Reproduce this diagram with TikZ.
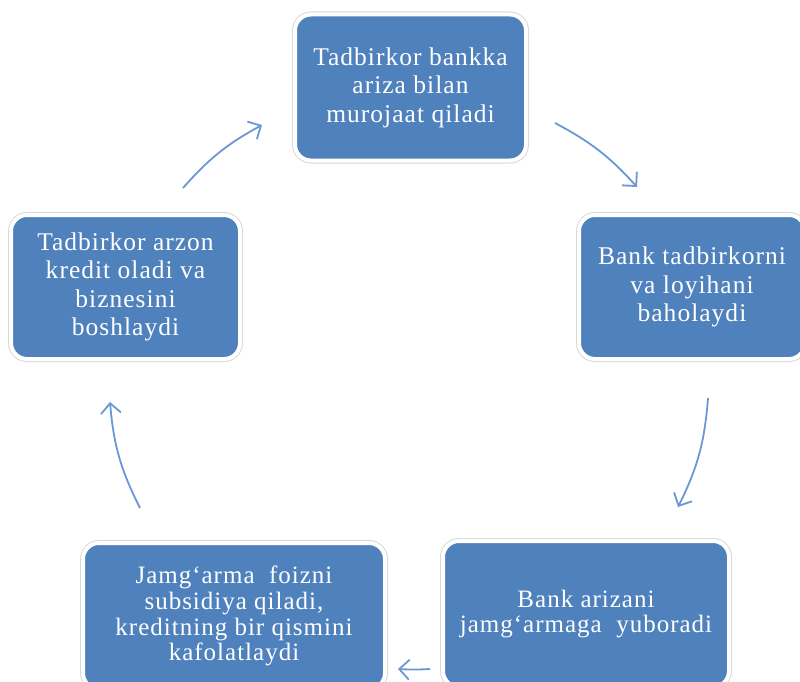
\documentclass[tikz,border=0pt]{standalone}
\usepackage{fontspec}
\setmainfont{Liberation Serif}[LetterSpace=4]
\usetikzlibrary{arrows.meta}
\definecolor{boxblue}{HTML}{4F81BD}
\definecolor{arrowblue}{HTML}{6A98D6}
\begin{document}
\begin{tikzpicture}[x=1pt,y=-1pt,
  stagebox/.style={rectangle, rounded corners=16pt, fill=boxblue, draw=white, line width=4pt,
    preaction={draw=black!15, line width=6pt}, text=white, align=center, inner sep=0pt},
  bigtext/.style={font=\fontsize{25.5}{28.5}\selectfont},
  smalltext/.style={font=\fontsize{25}{25.8}\selectfont},
  cyclearrow/.style={draw=arrowblue, line width=1.8pt,
    -{Straight Barb[length=10pt,width=20pt,line width=1.8pt]}}]
\useasboundingbox (0,0) rectangle (800,682);
\fill[white] (0,0) rectangle (800,682);

\node[stagebox, bigtext, minimum width=231pt, minimum height=146pt] (top) at (410.5,87.5)
  {Tadbirkor bankka\\ariza bilan\\murojaat qiladi};
\node[stagebox, bigtext, minimum width=226pt, minimum height=144pt] (right) at (692,287)
  {Bank tadbirkorni\\va loyihani\\baholaydi};
\node[stagebox, smalltext, minimum width=286pt, minimum height=146pt] (botright) at (586,614)
  {Bank arizani\\jamg‘armaga\ \ yuboradi};
\node[stagebox, smalltext, minimum width=302pt, minimum height=146pt] (botleft) at (234,616)
  {Jamg‘arma\ \ foizni\\subsidiya qiladi,\\kreditning bir qismini\\kafolatlaydi};
\node[stagebox, bigtext, minimum width=229pt, minimum height=144pt] (left) at (125.5,287)
  {Tadbirkor arzon\\kredit oladi va\\biznesini\\boshlaydi};

\coordinate (a1s) at (183,188); \coordinate (a1e) at (262,125);
\coordinate (a2s) at (555,123); \coordinate (a2e) at (637,187);
\coordinate (a3s) at (708,398); \coordinate (a3e) at (678,507);
\coordinate (a4s) at (430,669); \coordinate (a4e) at (398,669);
\coordinate (a5s) at (140,508); \coordinate (a5e) at (110,402);

\draw[cyclearrow] (a1s) to[bend left=10] (a1e);
\draw[cyclearrow] (a2s) to[bend left=10] (a2e);
\draw[cyclearrow] (a3s) to[bend left=11] (a3e);
\draw[cyclearrow] (a4s) to[bend left=3] (a4e);
\draw[cyclearrow] (a5s) to[bend left=11] (a5e);
\end{tikzpicture}
\end{document}
